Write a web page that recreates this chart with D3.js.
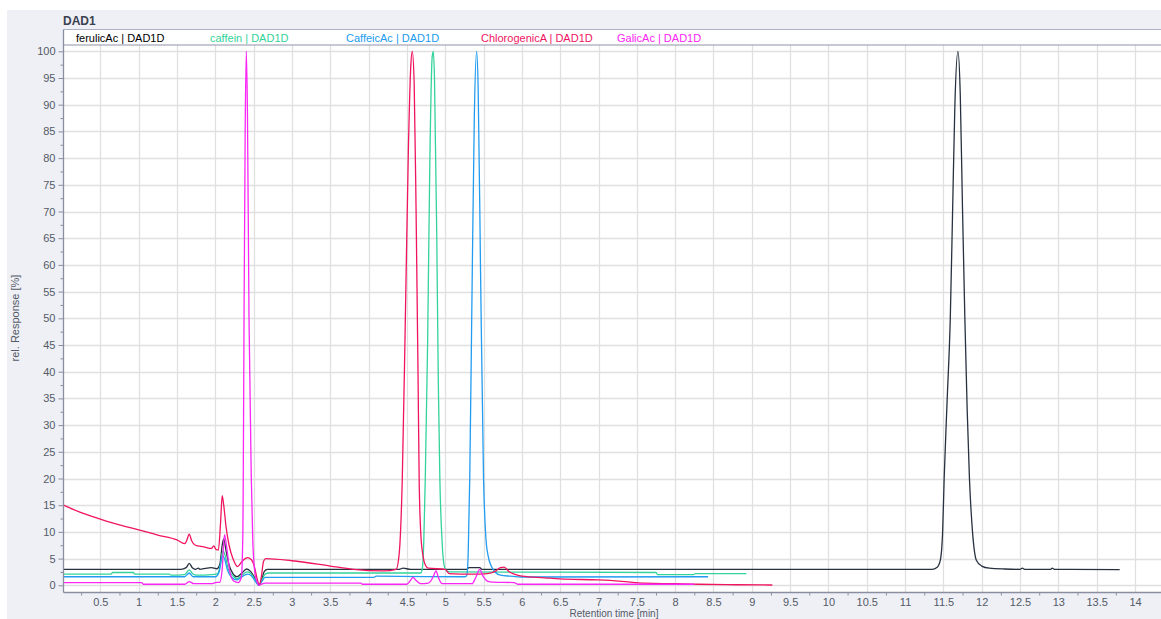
<!DOCTYPE html>
<html>
<head>
<meta charset="utf-8">
<script src="https://cdn.jsdelivr.net/npm/d3@7"></script>
<style>
  html, body { margin: 0; padding: 0; background: #ffffff; }
  svg { display: block; }
  text { font-family: "Liberation Sans", Arial, sans-serif; }
</style>
</head>
<body>
<svg id="chart" width="1161" height="619"></svg>
<script>
// ---------------- DATA ----------------
const seriesNames = ["ferulicAc | DAD1D", "caffein | DAD1D", "CaffeicAc | DAD1D", "ChlorogenicA | DAD1D", "GalicAc | DAD1D"];
const xTickValues = [0.5,1,1.5,2,2.5,3,3.5,4,4.5,5,5.5,6,6.5,7,7.5,8,8.5,9,9.5,10,10.5,11,11.5,12,12.5,13,13.5,14];
const yTickValues = [0,5,10,15,20,25,30,35,40,45,50,55,60,65,70,75,80,85,90,95,100];

// [retention time (min), rel. response (%)]
const ferulicAc = [
  [0.02,3.0],[1.55,3.0],[1.62,3.3],[1.66,4.1],[1.70,3.3],[1.74,3.0],[1.78,3.2],[1.80,3.0],[1.95,3.3],[2.02,3.1],
  [2.06,4.0],[2.09,7.5],[2.11,8.7],[2.14,6.5],[2.18,3.8],[2.23,2.2],[2.28,1.6],[2.34,2.2],[2.41,3.05],[2.46,2.6],
  [2.51,1.5],[2.55,0.3],[2.57,0.0],[2.60,0.8],[2.64,2.6],[2.68,3.0],[4.40,3.0],[4.45,3.2],[4.55,3.0],[5.28,3.0],
  [5.31,3.3],[5.45,3.3],[5.48,3.0],[11.35,3.0],[11.42,3.4],[11.46,4.7],[11.49,10],[11.51,20],[11.55,35],[11.59,50],
  [11.62,70],[11.65,90],[11.69,100],[11.72,92],[11.75,70],[11.78,50],[11.81,33],[11.84,20],[11.88,10],[11.93,4.7],
  [12.0,3.6],[12.1,3.2],[12.3,3.05],[12.5,3.0],[12.53,3.2],[12.56,3.0],[12.9,3.0],[12.92,3.2],[12.95,3.0],[13.8,2.95]
];
const caffein = [
  [0.02,2.1],[0.64,2.1],[0.66,2.4],[0.93,2.4],[0.95,2.1],[1.40,2.1],[1.42,1.9],[1.60,2.0],[1.66,2.9],[1.71,2.1],
  [1.75,1.9],[1.95,2.0],[2.03,2.2],[2.07,4.0],[2.10,6.5],[2.13,5.5],[2.17,3.0],[2.23,1.8],[2.28,1.2],[2.34,1.8],
  [2.42,2.5],[2.47,2.1],[2.52,1.0],[2.57,0.0],[2.61,1.0],[2.65,2.1],[2.70,2.3],[4.68,2.3],[4.70,3.0],[4.72,8],
  [4.74,20],[4.77,45],[4.80,80],[4.83,99],[4.845,100],[4.86,95],[4.89,65],[4.91,38],[4.93,20],[4.96,8],
  [4.99,3.5],[5.03,2.6],[5.10,2.5],[7.75,2.4],[7.77,2.0],[8.24,2.0],[8.26,2.2],[8.93,2.2]
];
const caffeicAc = [
  [0.02,1.6],[1.60,1.6],[1.66,2.3],[1.71,1.6],[2.00,1.6],[2.05,2.5],[2.09,5.5],[2.12,5.0],[2.16,2.8],[2.22,1.4],
  [2.28,1.0],[2.34,1.5],[2.42,2.1],[2.47,1.8],[2.52,0.8],[2.57,0.0],[2.61,0.8],[2.65,1.5],[4.07,1.5],[4.10,1.7],
  [5.25,1.6],[5.28,1.8],[5.30,6],[5.32,20],[5.35,55],[5.38,88],[5.41,100],[5.43,93],[5.46,60],[5.50,20],
  [5.53,9],[5.56,5.5],[5.60,3.6],[5.65,2.5],[5.72,1.9],[5.85,1.7],[6.0,1.55],[8.43,1.6]
];
const chlorogenicA = [
  [0.02,15.0],[0.25,13.6],[0.5,12.4],[0.75,11.3],[1.0,10.4],[1.25,9.4],[1.5,8.5],[1.60,7.8],[1.63,8.5],[1.66,9.6],
  [1.69,8.4],[1.74,7.5],[1.85,7.2],[1.95,6.9],[1.98,7.4],[2.01,6.7],[2.04,6.6],[2.07,12],[2.09,16.8],[2.11,15],
  [2.14,11],[2.18,7.5],[2.23,5.0],[2.29,3.5],[2.35,4.5],[2.42,5.2],[2.47,4.8],[2.51,3.5],[2.55,1.0],[2.575,0.0],
  [2.60,1.5],[2.63,4.5],[2.66,5.0],[3.0,4.6],[3.5,3.6],[3.8,3.0],[4.2,2.7],[4.36,3.0],[4.40,6],[4.44,20],
  [4.48,50],[4.52,82],[4.55,97],[4.57,100],[4.595,94],[4.62,70],[4.645,40],[4.66,20],[4.68,10],[4.71,5.5],
  [4.74,3.8],[4.78,3.2],[5.0,3.0],[5.05,2.2],[5.35,2.1],[5.55,2.2],[5.65,2.6],[5.72,3.3],[5.77,3.4],[5.83,2.6],
  [5.9,2.1],[6.0,1.7],[6.3,1.4],[6.5,1.2],[7.0,1.0],[7.3,0.75],[7.6,0.4],[8.0,0.3],[8.3,0.2],[8.8,0.1],[9.27,0.05]
];
const galicAc = [
  [0.02,0.5],[1.04,0.5],[1.06,0.2],[1.60,0.2],[1.66,0.7],[1.72,0.3],[1.95,0.3],[2.00,0.5],[2.06,0.6],[2.09,3.0],
  [2.12,9.5],[2.15,7.0],[2.19,2.5],[2.24,0.8],[2.30,0.5],[2.34,1.5],[2.36,10],[2.365,20],[2.375,50],[2.39,85],
  [2.405,100],[2.42,88],[2.44,50],[2.47,20],[2.49,8],[2.52,2],[2.55,0.5],[2.57,0.0],[2.60,0.2],[2.65,0.4],
  [3.9,0.4],[3.92,0.2],[4.50,0.2],[4.55,1.0],[4.58,1.5],[4.62,0.9],[4.68,0.3],[4.78,0.4],[4.84,1.5],[4.88,2.7],
  [4.91,1.5],[4.96,0.3],[5.35,0.3],[5.40,1.5],[5.45,3.0],[5.49,1.8],[5.55,0.8],[5.62,0.6],[5.90,0.5],[5.95,0.2],[8.25,0.2]
];
const seriesData = [ferulicAc, caffein, caffeicAc, chlorogenicA, galicAc];
const seriesColors = ["#27313f", "#34d39a", "#229cf0", "#f0145f", "#fb25f5"];

// ---------------- LAYOUT ----------------
const W = 1161, H = 619;
const svg = d3.select("#chart");
const plotLeft = 63.5, plotRight = 1162, plotTop = 45, plotBottom = 592.5;

const x = d3.scaleLinear().domain([0, 14]).range([62, 1135]);
const y = d3.scaleLinear().domain([0, 100]).range([585.3, 51.3]);

// background panel
svg.append("rect").attr("x", 7).attr("y", 10).attr("width", W - 7).attr("height", H - 10).attr("fill", "#eef0f6");

// title
svg.append("text").attr("x", 63).attr("y", 25).attr("font-size", 12).attr("font-weight", "bold")
  .attr("fill", "#3c4150").text("DAD1");

// legend strip
svg.append("rect").attr("x", plotLeft).attr("y", 29.5).attr("width", plotRight - plotLeft).attr("height", 15.5)
  .attr("fill", "#ffffff");
svg.append("line").attr("x1", plotLeft).attr("x2", plotRight).attr("y1", 29.5).attr("y2", 29.5)
  .attr("stroke", "#aeb0c6").attr("stroke-width", 1);

const legendX = [76, 210, 346, 481, 617];
seriesNames.forEach((n, i) => {
  svg.append("text").attr("x", legendX[i]).attr("y", 41.5).attr("font-size", 11)
    .attr("fill", i === 0 ? "#000000" : seriesColors[i]).text(n);
});

// plot area
svg.append("rect").attr("x", plotLeft).attr("y", plotTop).attr("width", plotRight - plotLeft)
  .attr("height", plotBottom - plotTop).attr("fill", "#ffffff");

// grid
const grid = svg.append("g");
xTickValues.forEach(v => {
  grid.append("line").attr("x1", Math.round(x(v)) + 0.5).attr("x2", Math.round(x(v)) + 0.5)
    .attr("y1", plotTop).attr("y2", plotBottom).attr("stroke", "#e0e0e0").attr("stroke-width", 1.3);
});
yTickValues.forEach(v => {
  grid.append("line").attr("x1", plotLeft).attr("x2", plotRight)
    .attr("y1", Math.round(y(v)) + 0.5).attr("y2", Math.round(y(v)) + 0.5)
    .attr("stroke", "#e0e0e0").attr("stroke-width", 1.3);
});

// top border of plot
svg.append("line").attr("x1", plotLeft).attr("x2", plotRight).attr("y1", plotTop).attr("y2", plotTop)
  .attr("stroke", "#8e91a6").attr("stroke-width", 1);

// clip
svg.append("defs").append("clipPath").attr("id", "clip").append("rect")
  .attr("x", plotLeft).attr("y", plotTop).attr("width", plotRight - plotLeft).attr("height", plotBottom - plotTop);

const line = d3.line().x(d => x(d[0])).y(d => y(d[1])).curve(d3.curveMonotoneX);
const lines = svg.append("g").attr("clip-path", "url(#clip)");
seriesData.forEach((s, i) => {
  lines.append("path").datum(s).attr("d", line).attr("fill", "none")
    .attr("stroke", seriesColors[i]).attr("stroke-width", 1.3).attr("stroke-linejoin", "round");
});

// axes
const axisColor = "#8a8ea0";
const xAxis = d3.axisBottom(x).tickValues(xTickValues).tickSize(0).tickPadding(4)
  .tickFormat(d => d3.format("~g")(d));
const gx = svg.append("g").attr("transform", `translate(0,${plotBottom})`).call(xAxis);
gx.select(".domain").remove();
gx.selectAll("text").attr("font-size", 11).attr("fill", "#555a66")
  .attr("font-family", "Liberation Sans, Arial, sans-serif").attr("dy", "0.9em");
// minor x ticks
const xMinor = d3.axisBottom(x).tickValues(xTickValues.map(v => v - 0.25)).tickSize(3).tickFormat("");
const gxm = svg.append("g").attr("transform", `translate(0,${plotBottom})`).call(xMinor);
gxm.select(".domain").remove();
gxm.selectAll("line").attr("stroke", axisColor);
svg.append("line").attr("x1", plotLeft).attr("x2", plotRight).attr("y1", plotBottom).attr("y2", plotBottom)
  .attr("stroke", axisColor).attr("stroke-width", 1.3);

const yAxis = d3.axisLeft(y).tickValues(yTickValues).tickSize(5).tickPadding(3);
const gy = svg.append("g").attr("transform", `translate(${plotLeft},0)`).call(yAxis);
gy.select(".domain").remove();
gy.selectAll("line").attr("stroke", axisColor);
gy.selectAll("text").attr("font-size", 11).attr("fill", "#555a66")
  .attr("font-family", "Liberation Sans, Arial, sans-serif");
const yMinor = d3.axisLeft(y).tickValues(yTickValues.slice(0, -1).map(v => v + 2.5)).tickSize(3).tickFormat("");
const gym = svg.append("g").attr("transform", `translate(${plotLeft},0)`).call(yMinor);
gym.select(".domain").remove();
gym.selectAll("line").attr("stroke", axisColor);
svg.append("line").attr("x1", plotLeft).attr("x2", plotLeft).attr("y1", 29.5).attr("y2", plotBottom)
  .attr("stroke", axisColor).attr("stroke-width", 1.3);

// axis titles
svg.append("text").attr("x", 614).attr("y", 617).attr("text-anchor", "middle").attr("font-size", 10)
  .attr("fill", "#555a66").text("Retention time [min]");
svg.append("text").attr("transform", "translate(19,318) rotate(-90)").attr("text-anchor", "middle")
  .attr("font-size", 11).attr("fill", "#555a66").text("rel. Response [%]");
</script>
</body>
</html>
